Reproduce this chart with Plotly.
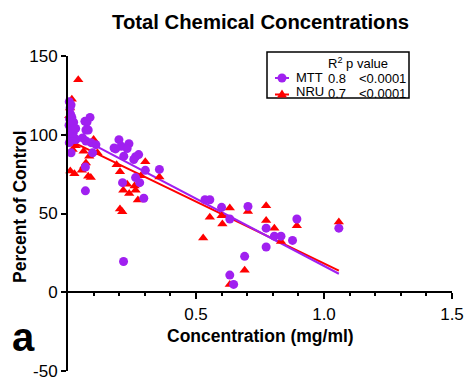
import plotly.graph_objects as go

# MTT assay: concentration (mg/ml) vs percent of control
mtt_x = [0.005, 0.008, 0.012, 0.010, 0.006, 0.015, 0.004, 0.012, 0.018, 0.008, 0.015, 0.025,
         0.031, 0.020, 0.005, 0.012, 0.022, 0.030,
         0.057, 0.066, 0.074, 0.086, 0.070, 0.079, 0.070, 0.090, 0.096, 0.109, 0.068, 0.068,
         0.180, 0.199, 0.208, 0.186, 0.238, 0.231, 0.218, 0.264, 0.276, 0.257, 0.302, 0.357,
         0.213, 0.264, 0.280, 0.296, 0.217,
         0.535, 0.554, 0.600, 0.632, 0.703, 0.774, 0.806, 0.832, 0.774, 0.877, 0.894, 1.058,
         0.690, 0.632, 0.647]
mtt_y = [121, 117, 119, 113, 110, 111, 106, 104, 103, 100, 98, 97,
         97, 101, 95, 88.5, 108, 104,
         98, 108.5, 108, 111, 103, 103, 96, 95, 88.5, 93.7, 79.5, 64.4,
         91.6, 96.9, 92.7, 91, 94.3, 91.2, 86.4, 86, 87.4, 84.3, 77.4, 78,
         69.6, 72.8, 69.6, 59.7, 19.5,
         58.7, 58.7, 53.9, 46.5, 54.5, 40.7, 35.6, 35.6, 28.7, 32.9, 46.5, 40.7,
         22.8, 10.9, 5.0]

# NRU assay
nru_x = [0.040, 0.015, 0.008, 0.005, 0.012, 0.020, 0.010, 0.018, 0.030, 0.009, 0.025, 0.054,
         0.063, 0.070, 0.079, 0.089, 0.061, 0.083, 0.100, 0.115,
         0.190, 0.203, 0.231, 0.216, 0.239, 0.264, 0.260, 0.273, 0.203, 0.212, 0.285, 0.302, 0.357,
         0.528, 0.554, 0.600, 0.603, 0.632, 0.703, 0.774, 0.774, 0.806, 0.832, 0.894, 1.058,
         0.690, 0.632]
nru_y = [135, 122.5, 117, 112, 106, 100, 95, 90.6, 93, 77, 75.3, 77.5,
         80, 82, 73.6, 72.8, 89.5, 86.4, 97, 88.5,
         81, 76.5, 68.6, 64.8, 62.7, 64.8, 67.5, 58.5, 52.8, 51.1, 73.9, 82.8, 73.2,
         34.4, 47.6, 48.6, 43.4, 53.5, 51.2, 55, 45.5, 40.7, 32.2, 42.3, 44.6,
         14, 5.0]

# linear regression results (intercept, slope) and statistics per assay
mtt_fit = (102.2, -85.5)
nru_fit = (96.8, -78.5)
series_names = ["MTT", "NRU"]
r_squared = ["0.8", "0.7"]
p_values = ["<0.0001", "<0.0001"]

x_tick_vals = [0.5, 1.0, 1.5]
x_tick_text = ["0.5", "1.0", "1.5"]
x_minor_vals = [0.1, 0.2, 0.3, 0.4, 0.6, 0.7, 0.8, 0.9, 1.1, 1.2, 1.3, 1.4]
y_tick_vals = [-50, 0, 50, 100, 150]
y_tick_text = ["-50", "0", "50", "100", "150"]

PURPLE = "#A020F0"
RED = "#FF0000"
FONT = "Arial, Liberation Sans, sans-serif"

W, H = 467, 379
L, R, T, B = 68, 15, 56, 8
PW, PH = W - L - R, H - T - B


def px(x):
    return (x - L) / PW


def py(y):
    return (H - B - y) / PH


def fit_line(xs, fit):
    intercept, slope = fit
    xx = [min(xs), max(xs)]
    return xx, [intercept + slope * v for v in xx]


fig = go.Figure()

for xs, fit, col in [(nru_x, nru_fit, RED), (mtt_x, mtt_fit, PURPLE)]:
    lx, ly = fit_line(xs, fit)
    fig.add_trace(go.Scatter(x=lx, y=ly, mode="lines", line=dict(color=col, width=2),
                             showlegend=False, hoverinfo="skip"))

fig.add_trace(go.Scatter(x=nru_x, y=nru_y, mode="markers", name="NRU", cliponaxis=False,
                         marker=dict(symbol="triangle-up", size=9, color=RED, line=dict(width=0)),
                         showlegend=False))
fig.add_trace(go.Scatter(x=mtt_x, y=mtt_y, mode="markers", name="MTT", cliponaxis=False,
                         marker=dict(symbol="circle", size=9, color=PURPLE, line=dict(width=0)),
                         showlegend=False))

annotations = [
    dict(text="<b>Total Chemical Concentrations</b>", x=px(260), y=py(22), font=dict(size=20.3)),
    dict(text="<b>Concentration (mg/ml)</b>", x=px(260), y=py(336), font=dict(size=17.5)),
    dict(text="<b>Percent of Control</b>", x=px(20), y=py(207), textangle=-90, font=dict(size=17.5)),
    dict(text="<b>a</b>", x=px(23), y=py(337), font=dict(size=40)),
    dict(text="R<sup>2</sup> p value", x=px(326), y=py(63), xanchor="left", font=dict(size=13)),
]
row_y = [77.5, 92]
for name, r2, pv, yy in zip(series_names, r_squared, p_values, row_y):
    annotations.append(dict(text=name, x=px(294), y=py(yy - 0.5), xanchor="left", font=dict(size=13)))
    annotations.append(dict(text=r2, x=px(326), y=py(yy + 1.5), xanchor="left", font=dict(size=13)))
    annotations.append(dict(text=pv, x=px(357), y=py(yy + 1), xanchor="left", font=dict(size=13)))

for a in annotations:
    a.setdefault("xanchor", "center")
    a.setdefault("yanchor", "middle")
    a.update(xref="paper", yref="paper", showarrow=False)
    a["font"] = dict(family=FONT, color="black", **a["font"])

shapes = [
    dict(type="rect", xref="paper", yref="paper", x0=px(267), x1=px(409), y0=py(52), y1=py(98),
         line=dict(color="black", width=1.5), fillcolor="rgba(0,0,0,0)"),
]
# legend keys: short line with a marker in the middle
for cx, cy, col, kind in [(282, 78, PURPLE, "circle"), (282, 94.5, RED, "triangle")]:
    shapes.append(dict(type="line", xref="paper", yref="paper", xsizemode="pixel", ysizemode="pixel",
                       xanchor=px(cx), yanchor=py(cy), x0=-7, x1=7, y0=0, y1=0,
                       line=dict(color=col, width=2)))
    if kind == "circle":
        shapes.append(dict(type="circle", xref="paper", yref="paper", xsizemode="pixel", ysizemode="pixel",
                           xanchor=px(cx), yanchor=py(cy), x0=-4.5, x1=4.5, y0=-4.5, y1=4.5,
                           fillcolor=col, line=dict(width=0)))
    else:
        shapes.append(dict(type="path", xref="paper", yref="paper", xsizemode="pixel", ysizemode="pixel",
                           xanchor=px(cx), yanchor=py(cy), path="M-5,-3 L5,-3 L0,5 Z",
                           fillcolor=col, line=dict(width=0)))

axis_common = dict(showline=True, linecolor="black", linewidth=2, ticks="outside", tickcolor="black",
                   tickwidth=2, showgrid=False, zeroline=False, ticklabeloverflow="allow",
                   automargin=False, tickfont=dict(family=FONT, size=17, color="black"))

fig.update_layout(
    width=W, height=H,
    margin=dict(l=L, r=R, t=T, b=B),
    paper_bgcolor="white", plot_bgcolor="white",
    showlegend=False,
    xaxis=dict(range=[0, 1.5], anchor="free", position=0.25, tickmode="array",
               tickvals=x_tick_vals, ticktext=x_tick_text, ticklen=6,
               minor=dict(tickmode="array", tickvals=x_minor_vals, ticks="outside", ticklen=3,
                          tickwidth=2, tickcolor="black", showgrid=False),
               **axis_common),
    yaxis=dict(range=[-50, 150], tickmode="array", tickvals=y_tick_vals, ticktext=y_tick_text,
               ticklen=5, **axis_common),
    annotations=annotations,
    shapes=shapes,
)

fig.write_html("out.html")
